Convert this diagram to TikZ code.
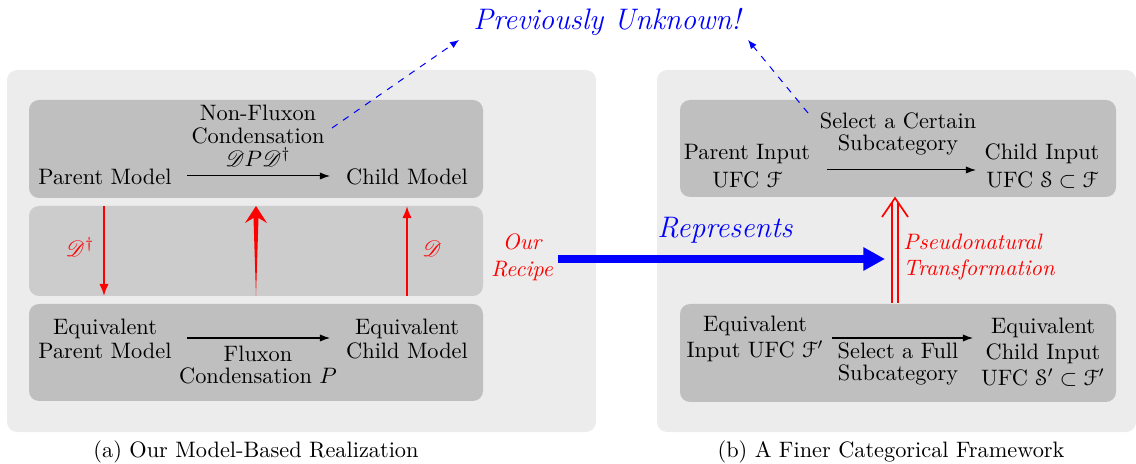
\documentclass[tikz,border=0pt]{standalone}
\usepackage{mathrsfs}
\usepackage{eucal}
\usetikzlibrary{arrows.meta}
\begin{document}
\begin{tikzpicture}[x=0.448pt,y=-0.448pt,
  panel/.style={fill=gray!15, rounded corners=4.5pt},
  inbox/.style={fill=gray!50, rounded corners=4.5pt},
  midbox/.style={fill=gray!40, rounded corners=4.5pt},
  txt/.style={align=center, inner sep=0pt},
  flow/.style={-{Latex[length=4.5pt,width=3.2pt]}, line width=0.45pt},
  redarr/.style={red, line width=0.9pt, -{Latex[length=5.4pt,width=4.2pt]}},
  dasharr/.style={blue, dashed, line width=0.45pt, -{Latex[length=4pt,width=3.2pt]}},
  redlbl/.style={red, inner sep=0pt},
  bigit/.style={font=\fontsize{13.3pt}{16pt}\selectfont\itshape},
]
\useasboundingbox (0,0) rectangle (1136,464);
% panels
\fill[panel] (7,70) rectangle (596,432);
\fill[panel] (657,70) rectangle (1136,432);
\fill[inbox] (29,100) rectangle (483,198);
\fill[midbox] (29,206) rectangle (483,296);
\fill[inbox] (29,304) rectangle (483,401);
\fill[inbox] (680,100) rectangle (1116,197);
\fill[inbox] (680,304) rectangle (1116,402);

% left top
\node[txt] (pm) at (105,177) {Parent Model};
\node[txt] (cm) at (407,177) {Child Model};
\node[txt, font=\fontsize{10pt}{10.4pt}\selectfont] (nf) at (258,136) {Non-Fluxon\\Condensation\\$\mathscr{D}P\mathscr{D}^\dagger$};
\coordinate (a1s) at (187,176); \coordinate (a1e) at (330,176);
\draw[flow] (a1s) -- (a1e);

% middle arrows
\coordinate (dl1) at (104,206); \coordinate (dl2) at (104,296);
\coordinate (dr1) at (407,296); \coordinate (dr2) at (407,206);
\draw[redarr] (dl1) -- (dl2);
\draw[redarr] (dr1) -- (dr2);
\node[redlbl] (ddag) at (80,247) {$\mathscr{D}^\dagger$};
\node[redlbl] (dd) at (432,249) {$\mathscr{D}$};
\fill[red] (256,206) -- (267,223) -- (258.5,218) -- (256,296) -- (253.5,218) -- (245,223) -- cycle;

% left bottom
\node[txt, font=\fontsize{10pt}{10.8pt}\selectfont] (epm) at (105,339) {Equivalent\\Parent Model};
\node[txt, font=\fontsize{10pt}{10.8pt}\selectfont] (ecm) at (407,339) {Equivalent\\Child Model};
\node[txt, font=\fontsize{10pt}{10.3pt}\selectfont] (fc) at (258,365) {Fluxon\\Condensation $P$};
\coordinate (a2s) at (187,338); \coordinate (a2e) at (330,338);
\draw[flow] (a2s) -- (a2e);

% recipe and represents
\node[txt, red, font=\fontsize{10pt}{12pt}\selectfont\itshape] (rec) at (522,257) {Our\\Recipe};
\coordinate (bl1) at (558,259); \coordinate (bl2) at (885,259);
\draw[blue, line width=3.4pt, -{Triangle[length=9.7pt,width=9.9pt]}] (bl1) -- (bl2);
\node[txt, blue, bigit] (rep) at (725,230) {Represents};

% right top
\node[txt, font=\fontsize{10pt}{12.5pt}\selectfont] (pi) at (747,166) {Parent Input\\UFC $\mathcal{F}$};
\node[txt, font=\fontsize{10pt}{12.5pt}\selectfont] (ci) at (1042,166) {Child Input\\UFC $\mathcal{S}\subset\mathcal{F}$};
\node[txt, font=\fontsize{10pt}{9.8pt}\selectfont] (sc) at (898,134) {Select a Certain\\Subcategory};
\coordinate (b1s) at (827,170); \coordinate (b1e) at (976,170);
\draw[flow] (b1s) -- (b1e);

% pseudonatural
\coordinate (pt1) at (895,303); \coordinate (pt2) at (895,198);
\coordinate (ptw1) at (882,217); \coordinate (ptw2) at (908,217);
\coordinate (pt3) at (895,203);
\draw[red, line width=0.75pt, double=gray!15, double distance=2.2pt] (pt1) -- (pt3);
\draw[red, line width=0.75pt, line join=miter] (ptw1) -- (pt2) -- (ptw2);
\node[txt, red, align=left, anchor=west, font=\fontsize{10pt}{12pt}\selectfont\itshape] (pnt) at (903,257) {Pseudonatural\\Transformation};

% right bottom
\node[txt, font=\fontsize{10pt}{11.6pt}\selectfont] (ei) at (755,339) {Equivalent\\Input UFC $\mathcal{F}'$};
\node[txt, font=\fontsize{10pt}{11.6pt}\selectfont] (eci) at (1043,352) {Equivalent\\Child Input\\UFC $\mathcal{S}'\subset\mathcal{F}'$};
\node[txt, font=\fontsize{10pt}{9.8pt}\selectfont] (sf) at (898,364) {Select a Full\\Subcategory};
\coordinate (b2s) at (832,338); \coordinate (b2e) at (973,338);
\draw[flow] (b2s) -- (b2e);

% previously unknown
\node[txt, blue, bigit] (pu) at (607,22) {Previously Unknown!};
\coordinate (ds1) at (332,128); \coordinate (ds2) at (459,40);
\coordinate (ds3) at (808,113); \coordinate (ds4) at (748,40);
\draw[dasharr] (ds1) -- (ds2);
\draw[dasharr] (ds3) -- (ds4);

% captions
\node[txt] (capa) at (256,452) {(a) Our Model-Based Realization};
\node[txt] (capb) at (891,452) {(b) A Finer Categorical Framework};
\end{tikzpicture}
\end{document}
